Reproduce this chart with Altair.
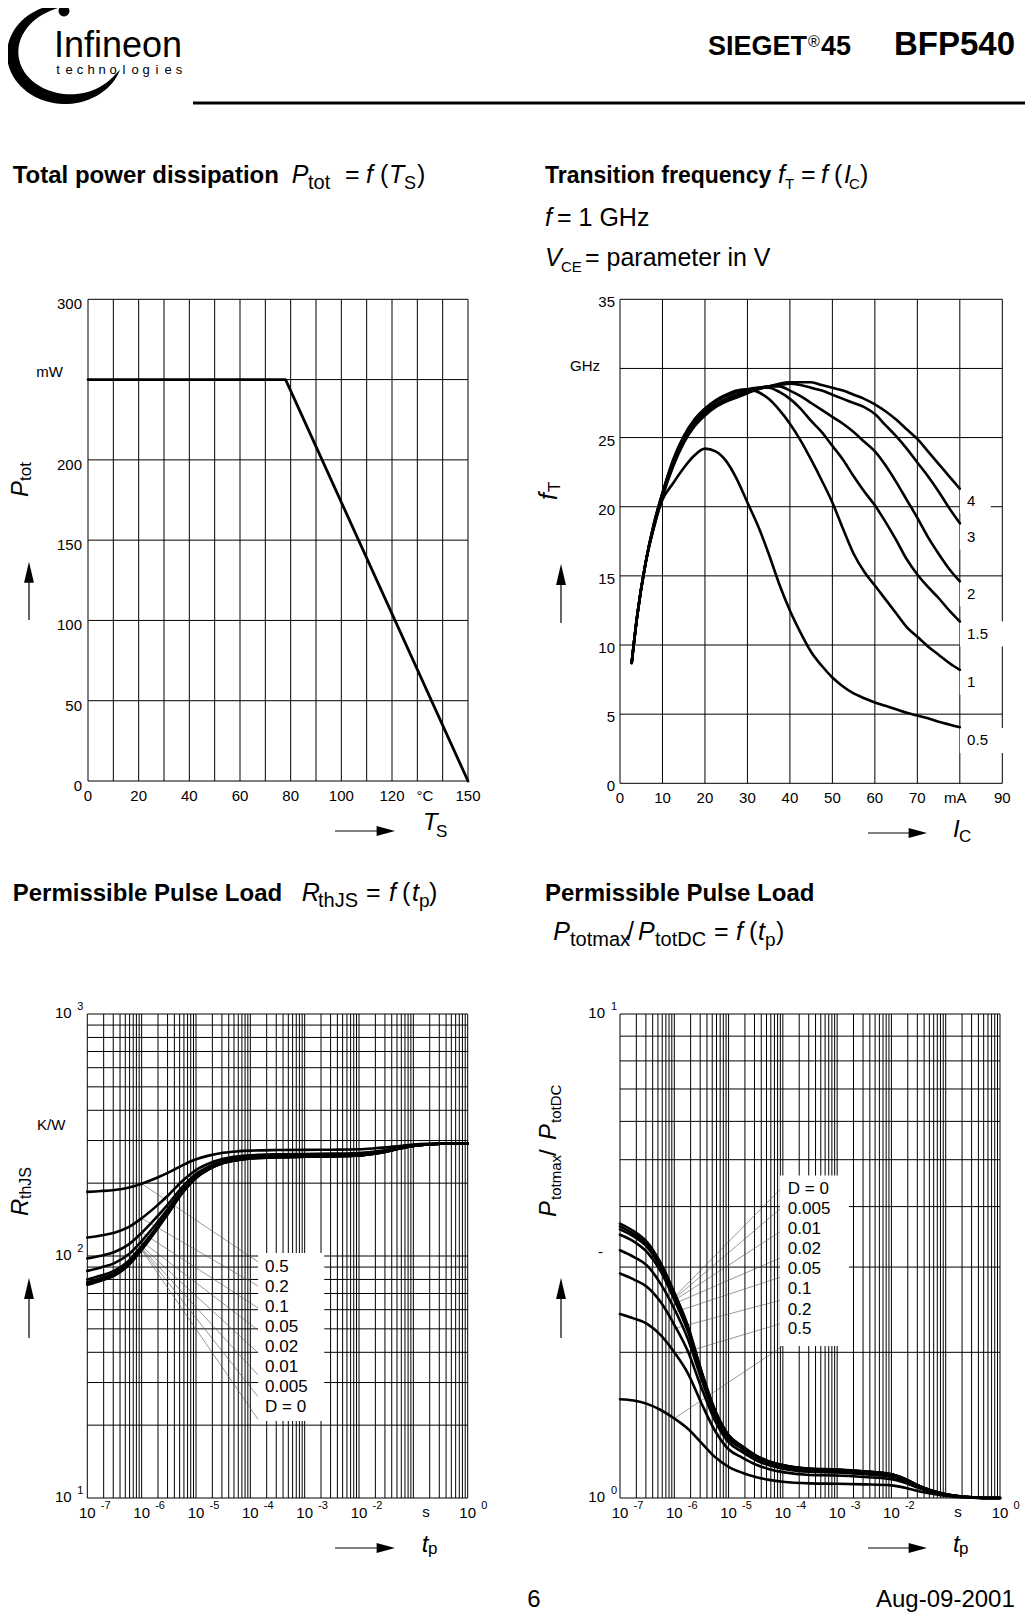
import math
import altair as alt
import pandas as pd

FONT = "Liberation Sans, Arial, Helvetica, sans-serif"
M = 8  # page margin: svg origin sits at page (8, 8)

# ======================= DATA =======================
# --- Total power dissipation Ptot = f(Ts)
TS = [0, 78, 150]
PTOT = [250, 250, 0]
P1_GX = list(range(0, 151, 10))
P1_GY = [0, 50, 100, 150, 200, 250, 300]
P1_XT = [0, 20, 40, 60, 80, 100, 120, 133, 150]
P1_XL = ["0", "20", "40", "60", "80", "100", "120", "°C", "150"]
P1_YT = [0, 50, 100, 150, 200, 300]
P1_YL = ["0", "50", "100", "150", "200", "300"]

# --- Transition frequency fT = f(IC), VCE parameter
IC = [2.75, 4, 6, 8, 10, 12.5, 15, 17.5, 20, 22.5, 25, 27.5, 30, 32.5, 35, 37.5,
      40, 42.5, 45, 47.5, 50, 52.5, 55, 57.5, 60, 62.5, 65, 67.5, 70, 72.5, 75, 77.5, 80]
FT_05 = [8.7, 12.0, 15.9, 18.6, 20.5, 21.7, 22.8, 23.7, 24.2, 24.0, 23.3, 22.0, 20.3, 18.6, 16.6, 14.4,
         12.5, 10.9, 9.5, 8.5, 7.65, 7.0, 6.5, 6.15, 5.85, 5.6, 5.35, 5.1, 4.9, 4.7, 4.45, 4.25, 4.05]
FT_1 = [8.7, 12.0, 15.9, 18.8, 21.0, 23.4, 25.1, 26.3, 27.1, 27.7, 28.1, 28.4, 28.5, 28.3, 27.8, 27.0,
        26.0, 24.8, 23.4, 21.9, 20.3, 18.4, 16.6, 15.3, 14.3, 13.3, 12.3, 11.3, 10.6, 9.9, 9.3, 8.7, 8.2]
FT_15 = [8.7, 12.0, 15.9, 18.8, 21.0, 23.3, 25.0, 26.2, 27.0, 27.6, 28.0, 28.3, 28.5, 28.6, 28.6, 28.3,
         27.8, 27.1, 26.2, 25.4, 24.4, 23.4, 22.2, 21.1, 20.1, 18.9, 17.6, 16.2, 15.1, 14.2, 13.4, 12.5, 11.7]
FT_2 = [8.7, 12.0, 15.9, 18.7, 20.9, 23.1, 24.8, 26.0, 26.8, 27.4, 27.8, 28.1, 28.4, 28.6, 28.7, 28.7,
        28.4, 28.0, 27.5, 27.0, 26.5, 26.0, 25.4, 24.7, 24.0, 23.0, 21.8, 20.5, 19.2, 17.8, 16.6, 15.5, 14.6]
FT_3 = [8.7, 12.0, 15.9, 18.6, 20.8, 23.0, 24.7, 25.9, 26.7, 27.3, 27.7, 28.0, 28.3, 28.5, 28.7, 28.8,
        28.9, 28.8, 28.6, 28.4, 28.1, 27.8, 27.5, 27.2, 26.7, 25.9, 25.1, 24.2, 23.2, 22.2, 21.1, 19.9, 18.8]
FT_4 = [8.7, 12.0, 15.9, 18.5, 20.7, 22.9, 24.6, 25.8, 26.6, 27.2, 27.6, 27.9, 28.2, 28.5, 28.7, 28.9,
        29.0, 29.0, 29.0, 28.8, 28.6, 28.4, 28.1, 27.8, 27.4, 26.9, 26.3, 25.6, 24.9, 24.0, 23.1, 22.2, 21.3]
P2_GX = list(range(0, 91, 10))
P2_GY = list(range(0, 36, 5))
P2_XT = [0, 10, 20, 30, 40, 50, 60, 70, 78.9, 90]
P2_XL = ["0", "10", "20", "30", "40", "50", "60", "70", "mA", "90"]
P2_YT = [0, 5, 10, 15, 20, 25, 35]
P2_YL = ["0", "5", "10", "15", "20", "25", "35"]
VCE_LAB = ["4", "3", "2", "1.5", "1", "0.5"]
VCE_LAB_FT = [20.4, 17.8, 13.7, 10.8, 7.3, 3.1]
VCE_BOX_END = [87.3, 87.3, 87.3, 90.5, 87.3, 90.5]

# --- Permissible pulse load RthJS = f(tp), D parameter
TP = [1e-7, 1.78e-7, 3.16e-7, 5.62e-7, 1e-6, 1.78e-6, 3.16e-6, 5.62e-6, 1e-5, 1.78e-5, 3.16e-5,
      5.62e-5, 1e-4, 3.16e-4, 1e-3, 3.16e-3, 1e-2, 1.78e-2, 3.16e-2, 5.62e-2, 0.1, 0.178, 0.316, 0.562, 1.0]
R_D0 = [76, 79, 83, 91, 106, 126, 151, 182, 210, 229, 242, 249, 253, 256, 257, 258, 260, 264, 270, 278, 285, 289, 291, 292, 292]
R_D0005 = [77, 80, 84, 92, 107, 127, 152, 183, 210, 229, 242, 249, 253, 256, 257, 258, 260, 264, 270, 278, 285, 289, 291, 292, 292]
R_D001 = [78, 81, 85, 93, 108, 128, 152, 183, 211, 230, 243, 249, 253, 256, 257, 258, 260, 264, 270, 278, 285, 289, 291, 292, 292]
R_D002 = [80, 83, 87, 95, 110, 129, 154, 184, 212, 230, 243, 250, 254, 257, 258, 259, 261, 265, 271, 278, 285, 289, 291, 292, 292]
R_D005 = [86.8, 89.7, 93.5, 101.1, 115.3, 134.3, 158.1, 187.5, 214.1, 232.2, 244.5, 251.2, 255, 257.8, 258.8,
          259.7, 261.6, 265.4, 271.1, 278.7, 285.4, 289.2, 291.1, 292, 292]
R_D01 = [97.6, 100.3, 103.9, 111.1, 124.6, 142.6, 165.1, 193.0, 218.2, 235.3, 247.0, 253.3, 256.9, 259.6, 260.5,
         261.4, 263.2, 266.8, 272.2, 279.4, 285.7, 289.3, 291.1, 292, 292]
R_D02 = [119.2, 121.6, 124.8, 131.2, 143.2, 159.2, 179.2, 204.0, 226.4, 241.6, 252.0, 257.6, 260.8, 263.2, 264.0,
         264.8, 266.4, 269.6, 274.4, 280.8, 286.4, 289.6, 291.2, 292, 292]
R_D05 = [184, 185.5, 187.5, 191.5, 199, 209, 221.5, 237, 251, 260.5, 267, 270.5, 272.5, 274, 274.5, 275, 276,
         278, 281, 285, 288.5, 290.5, 291.5, 292, 292]
P3_LAB = ["0.5", "0.2", "0.1", "0.05", "0.02", "0.01", "0.005", "D = 0"]
P3_LAB_R = [90.1, 74.5, 61.5, 51.0, 42.2, 34.9, 28.7, 23.8]
P3_LEAD_R0 = [199, 143, 125, 115, 110, 108, 107, 106]
P3_LEAD_R1 = [94.6, 75.2, 61.0, 49.4, 39.8, 32.2, 26.2, 21.1]

# --- Permissible pulse load Ptotmax/PtotDC = f(tp)
P_D0 = [3.69, 3.56, 3.38, 3.06, 2.66, 2.27, 1.83, 1.52, 1.35, 1.28, 1.225, 1.19, 1.17, 1.15, 1.145, 1.135,
        1.12, 1.095, 1.06, 1.035, 1.018, 1.008, 1.003, 1.0, 1.0]
P_D0005 = [3.64, 3.51, 3.34, 3.03, 2.64, 2.25, 1.82, 1.516, 1.347, 1.278, 1.224, 1.189, 1.169, 1.149, 1.144,
           1.134, 1.119, 1.095, 1.06, 1.035, 1.018, 1.008, 1.003, 1.0, 1.0]
P_D001 = [3.59, 3.47, 3.30, 3.00, 2.62, 2.24, 1.82, 1.51, 1.345, 1.277, 1.223, 1.188, 1.168, 1.148, 1.144,
          1.134, 1.119, 1.094, 1.06, 1.035, 1.018, 1.008, 1.003, 1.0, 1.0]
P_D002 = [3.50, 3.39, 3.22, 2.94, 2.57, 2.21, 1.80, 1.50, 1.34, 1.273, 1.22, 1.186, 1.166, 1.146, 1.142,
          1.132, 1.117, 1.093, 1.059, 1.034, 1.018, 1.008, 1.003, 1.0, 1.0]
P_D005 = [3.25, 3.15, 3.02, 2.77, 2.46, 2.13, 1.76, 1.48, 1.326, 1.263, 1.212, 1.179, 1.16, 1.141, 1.137,
          1.127, 1.113, 1.09, 1.057, 1.033, 1.017, 1.008, 1.003, 1.0, 1.0]
P_D01 = [2.91, 2.83, 2.73, 2.54, 2.28, 2.01, 1.69, 1.445, 1.304, 1.245, 1.198, 1.168, 1.15, 1.133, 1.129,
         1.12, 1.107, 1.085, 1.054, 1.032, 1.016, 1.007, 1.003, 1.0, 1.0]
P_D02 = [2.40, 2.35, 2.29, 2.17, 2.00, 1.81, 1.57, 1.377, 1.261, 1.212, 1.173, 1.147, 1.131, 1.116, 1.113,
         1.105, 1.094, 1.075, 1.048, 1.028, 1.015, 1.006, 1.002, 1.0, 1.0]
P_D05 = [1.60, 1.59, 1.565, 1.52, 1.46, 1.39, 1.30, 1.215, 1.16, 1.128, 1.105, 1.09, 1.08, 1.072, 1.07,
         1.067, 1.062, 1.05, 1.033, 1.02, 1.01, 1.004, 1.0015, 1.0, 1.0]
P4_LAB = ["D = 0", "0.005", "0.01", "0.02", "0.05", "0.1", "0.2", "0.5"]
P4_LAB_V = [4.34, 3.95, 3.59, 3.27, 2.97, 2.70, 2.45, 2.23]
P4_LEAD_V0 = [2.60, 2.58, 2.56, 2.52, 2.42, 2.24, 1.97, 1.46]
P4_LEAD_V1 = [4.40, 4.00, 3.58, 3.15, 2.87, 2.57, 2.30, 2.06]

# log grid / tick labels
DEC = [-7, -6, -5, -4, -3, -2, -1]
MULT = [1, 2, 3, 4, 5, 6, 7, 8, 9]
LOG_GX = [m * 10.0 ** e for e in DEC for m in MULT] + [1.0]
P3_GY = [m * 10.0 ** e for e in [1, 2] for m in MULT] + [1000.0]
P4_GY = [1, 2, 3, 4, 5, 6, 7, 8, 9, 10]
LOG_XT = [1e-7, 1e-6, 1e-5, 1e-4, 1e-3, 1e-2, 1.0]
LOG_XSUP = ["-7", "-6", "-5", "-4", "-3", "-2", "0"]

# ======================= helpers =======================
ONE = alt.Data(values=[{"a": 1}])


def T(x, y, s, size=25, weight="normal", style="normal", align="left", baseline="alphabetic",
      angle=0, font=FONT):
    kw = dict(text=s, fontSize=size, fontWeight=weight, fontStyle=style, align=align,
              baseline=baseline, font=font, color="black")
    if angle:
        kw["angle"] = angle
    return alt.Chart(ONE).mark_text(**kw).encode(x=alt.value(x - M), y=alt.value(y - M))


def lin(dom, rng):
    return alt.Scale(type="linear", domain=dom, range=[r - M for r in rng], nice=False, zero=False)


def logsc(dom, rng):
    return alt.Scale(type="log", domain=dom, range=[r - M for r in rng], nice=False)


def gridv(vals, lo, hi, sx, sy, w=1.0):
    df = pd.DataFrame({"v": vals, "lo": lo, "hi": hi})
    return alt.Chart(df).mark_rule(color="black", strokeWidth=w).encode(
        x=alt.X("v:Q", scale=sx, axis=None), y=alt.Y("lo:Q", scale=sy, axis=None), y2="hi:Q")


def gridh(vals, lo, hi, sx, sy, w=1.0):
    df = pd.DataFrame({"v": vals, "lo": lo, "hi": hi})
    return alt.Chart(df).mark_rule(color="black", strokeWidth=w).encode(
        y=alt.Y("v:Q", scale=sy, axis=None), x=alt.X("lo:Q", scale=sx, axis=None), x2="hi:Q")


def labx(vals, texts, at, sx, sy, dx=0, dy=15, size=15, align="center"):
    df = pd.DataFrame({"v": vals, "t": texts, "at": at})
    return alt.Chart(df).mark_text(font=FONT, fontSize=size, align=align, baseline="middle",
                                   dx=dx, dy=dy, color="black").encode(
        x=alt.X("v:Q", scale=sx, axis=None), y=alt.Y("at:Q", scale=sy, axis=None), text="t:N")


def laby(vals, texts, at, sx, sy, dx=-6, dy=5, size=15, align="right"):
    df = pd.DataFrame({"v": vals, "t": texts, "at": at})
    return alt.Chart(df).mark_text(font=FONT, fontSize=size, align=align, baseline="middle",
                                   dx=dx, dy=dy, color="black").encode(
        y=alt.Y("v:Q", scale=sy, axis=None), x=alt.X("at:Q", scale=sx, axis=None), text="t:N")


def curves(xs, series, sx, sy, w=2.6, interp="monotone"):
    rows = [{"x": x, "y": y, "s": k} for k, ys in series.items() for x, y in zip(xs, ys)]
    return alt.Chart(pd.DataFrame(rows)).mark_line(
        color="black", strokeWidth=w, interpolate=interp, strokeCap="round", strokeJoin="round"
    ).encode(x=alt.X("x:Q", scale=sx, axis=None), y=alt.Y("y:Q", scale=sy, axis=None), detail="s:N")


def boxes(x1, x2, y1, y2, sx, sy):
    df = pd.DataFrame({"x1": x1, "x2": x2, "y1": y1, "y2": y2})
    return alt.Chart(df).mark_rect(color="white").encode(
        x=alt.X("x1:Q", scale=sx, axis=None), x2="x2:Q", y=alt.Y("y1:Q", scale=sy, axis=None), y2="y2:Q")


def leaders(xa, ya, xb, yb, sx, sy):
    df = pd.DataFrame({"xa": xa, "ya": ya, "xb": xb, "yb": yb})
    return alt.Chart(df).mark_rule(color="#555555", strokeWidth=0.6).encode(
        x=alt.X("xa:Q", scale=sx, axis=None), y=alt.Y("ya:Q", scale=sy, axis=None), x2="xb:Q", y2="yb:Q")


def tlabels(labels, at_x, ys, sx, sy, dx, size=17):
    df = pd.DataFrame({"t": labels, "x": at_x, "y": ys})
    return alt.Chart(df).mark_text(font=FONT, fontSize=size, align="left", baseline="middle",
                                   dx=dx, color="black").encode(
        x=alt.X("x:Q", scale=sx, axis=None), y=alt.Y("y:Q", scale=sy, axis=None), text="t:N")


def hrule(x0, x1, y, w=1.2):
    return alt.Chart(ONE).mark_rule(color="black", strokeWidth=w).encode(
        x=alt.value(x0 - M), x2=alt.value(x1 - M), y=alt.value(y - M))


def vrule(x, y0, y1, w=1.2):
    return alt.Chart(ONE).mark_rule(color="black", strokeWidth=w).encode(
        x=alt.value(x - M), y=alt.value(y0 - M), y2=alt.value(y1 - M))


HEAD_R = "M -1 -0.55 L 1 0 L -1 0.55 Z"
HEAD_U = "M -0.47 1 L 0 -1 L 0.47 1 Z"


def head(x, y, shape, half):
    return alt.Chart(ONE).mark_point(shape=shape, filled=True, color="black", opacity=1,
                                     size=(2 * half) ** 2, strokeWidth=0).encode(
        x=alt.value(x - M), y=alt.value(y - M))


def arrow_right(x0, x1, y):
    return [hrule(x0, x1 - 17, y), head(x1 - 9.2, y, HEAD_R, 9.2)]


def arrow_up(x, y0, y1):
    return [vrule(x, y0, y1 + 20), head(x, y1 + 10.5, HEAD_U, 10.5)]


layers = []

# ======================= header =======================
def swoosh_path(rx, ry, a0, a1, tmax, k):
    outer, inner = [], []
    n = 60
    for i in range(n + 1):
        s = i / n
        a = math.radians(a0 + (a1 - a0) * s)
        t = tmax * math.sin(math.pi * s) ** 0.7
        outer.append((rx * math.cos(a), ry * math.sin(a)))
        inner.append(((rx - t) * math.cos(a), (ry - t) * math.sin(a)))
    pts = outer + inner[::-1]
    return "M " + " L ".join(f"{px / k:.4f} {py / k:.4f}" for px, py in pts) + " Z"


LOGO_CX, LOGO_CY = 65, 54
layers.append(alt.Chart(ONE).mark_point(
    shape=swoosh_path(58, 50, -82, -342, 12, 60), filled=True, color="black",
    opacity=1, size=120 ** 2, strokeWidth=0).encode(x=alt.value(LOGO_CX - M), y=alt.value(LOGO_CY - M)))
layers.append(alt.Chart(ONE).mark_point(shape="circle", filled=True, color="black", opacity=1,
                                        size=120, strokeWidth=0).encode(x=alt.value(64 - M), y=alt.value(11 - M)))
layers.append(T(54, 57, "Infineon", size=36))
for i, ch in enumerate("technologies"):
    layers.append(T(58 + i * 11, 74, ch, size=13, align="center"))
layers.append(T(708, 55, "SIEGET", size=27, weight="bold"))
layers.append(T(808, 47, "®", size=16))
layers.append(T(821, 55, "45", size=27, weight="bold"))
layers.append(T(1015, 55, "BFP540", size=33, weight="bold", align="right"))
layers.append(hrule(193, 1030, 103, w=3))

# ======================= titles =======================
def pieces(lst):
    out = []
    for p in lst:
        x, y, s, size = p[:4]
        weight = p[4] if len(p) > 4 else "normal"
        style = p[5] if len(p) > 5 else "normal"
        out.append(T(x, y, s, size=size, weight=weight, style=style))
    return out


IT = ("normal", "italic")
layers += pieces([
    (12.7, 183, "Total power dissipation", 24, "bold"),
    (291.7, 183, "P", 25, *IT), (308, 189, "tot", 20),
    (345, 183, "=", 25), (366, 183, "f", 25, *IT), (380, 183, "(", 25),
    (389, 183, "T", 25, *IT), (404, 189, "S", 18), (417, 183, ")", 25),
    (545, 183, "Transition frequency", 23, "bold"),
    (778, 183, "f", 25, *IT), (785, 189, "T", 15), (801, 183, "=", 25),
    (821, 183, "f", 25, *IT), (834, 183, "(", 25), (844, 183, "I", 25, *IT),
    (849, 189, "C", 15), (860, 183, ")", 25),
    (545, 226, "f", 25, *IT), (557, 226, "= 1 GHz", 25),
    (545, 266, "V", 25, *IT), (561, 272, "CE", 15), (585, 266, "= parameter in V", 25),
    (12.7, 900.7, "Permissible Pulse Load", 24, "bold"),
    (301.7, 900.7, "R", 25, *IT), (318, 907, "thJS", 20), (366, 900.7, "=", 25),
    (389, 900.7, "f", 25, *IT), (402, 900.7, "(", 25), (412, 900.7, "t", 25, *IT),
    (419, 907, "p", 19), (429, 900.7, ")", 25),
    (545, 900.7, "Permissible Pulse Load", 24, "bold"),
    (553.3, 940, "P", 25, *IT), (570, 946, "totmax", 20), (627, 940, "/", 25),
    (638, 940, "P", 25, *IT), (655, 946, "totDC", 20), (714, 940, "=", 25),
    (736, 940, "f", 25, *IT), (749, 940, "(", 25), (758, 940, "t", 25, *IT),
    (765, 946, "p", 19), (776, 940, ")", 25),
])

# footer
layers.append(T(534, 1607, "6", size=24, align="center"))
layers.append(T(876, 1607, "Aug-09-2001", size=24))

# ======================= panel 1 =======================
SX1 = lin([0, 150], [88, 468])
SY1 = lin([0, 300], [781, 299.3])
p1 = [
    gridv(P1_GX, 0, 300, SX1, SY1),
    gridh(P1_GY, 0, 150, SX1, SY1),
    curves(TS, {"p": PTOT}, SX1, SY1, w=2.8, interp="linear"),
    labx(P1_XT, P1_XL, 0, SX1, SY1, dy=15),
    laby(P1_YT, P1_YL, 0, SX1, SY1, dx=-6, dy=5),
    laby([250], ["mW"], 0, SX1, SY1, dx=-25, dy=-8),
]
layers.append(alt.layer(*p1))
layers += [T(28, 497, "P", 24, style="italic", angle=270), T(31, 481, "tot", 17, angle=270)]
layers += arrow_up(29, 620, 561.7)
layers += [T(423, 830, "T", 24, style="italic"), T(436, 837, "S", 17)]
layers += arrow_right(335, 395, 831)

# ======================= panel 2 =======================
SX2 = lin([0, 90], [620, 1002.3])
SY2 = lin([0, 35], [783.3, 299.3])
p2 = [
    gridv(P2_GX, 0, 35, SX2, SY2),
    gridh(P2_GY, 0, 90, SX2, SY2),
    boxes([80] * 6, VCE_BOX_END, [v - 0.9 for v in VCE_LAB_FT], [v + 0.9 for v in VCE_LAB_FT], SX2, SY2),
    curves(IC, {"0.5": FT_05, "1": FT_1, "1.5": FT_15, "2": FT_2, "3": FT_3, "4": FT_4}, SX2, SY2),
    tlabels(VCE_LAB, [80] * 6, VCE_LAB_FT, SX2, SY2, dx=7.3, size=15),
    labx(P2_XT, P2_XL, 0, SX2, SY2, dy=15),
    laby(P2_YT, P2_YL, 0, SX2, SY2, dx=-5, dy=3),
    laby([30], ["GHz"], 0, SX2, SY2, dx=-20, dy=-2),
]
layers.append(alt.layer(*p2))
layers += [T(557, 500, "f", 25, style="italic", angle=270), T(560, 492, "T", 17, angle=270)]
layers += arrow_up(561, 623, 564)
layers += [T(953, 837, "I", 24, style="italic"), T(959, 842, "C", 17)]
layers += arrow_right(868, 927, 833)

# ======================= panel 3 =======================
SX3 = logsc([1e-7, 1], [87.3, 467.7])
SY3 = logsc([10, 1000], [1498, 1014])
p3 = [
    gridv(LOG_GX, 10, 1000, SX3, SY3),
    gridh(P3_GY, 1e-7, 1, SX3, SY3),
    leaders([1e-6] * 8, P3_LEAD_R0, [1.39e-4] * 8, P3_LEAD_R1, SX3, SY3),
    boxes([1.39e-4], [2.29e-3], [20.8], [102.8], SX3, SY3),
    curves(TP, {"0": R_D0, "0.005": R_D0005, "0.01": R_D001, "0.02": R_D002, "0.05": R_D005,
                "0.1": R_D01, "0.2": R_D02, "0.5": R_D05}, SX3, SY3),
    tlabels(P3_LAB, [1.39e-4] * 8, P3_LAB_R, SX3, SY3, dx=7, size=17),
    labx(LOG_XT, ["10"] * 7, 10, SX3, SY3, dy=15),
    labx(LOG_XT, LOG_XSUP, 10, SX3, SY3, dx=13.5, dy=7.5, size=11, align="left"),
    labx([0.17], ["s"], 10, SX3, SY3, dy=14),
    laby([10, 100, 1000], ["10"] * 3, 1e-7, SX3, SY3, dx=-15.6, dy=-1),
    laby([10, 100, 1000], ["1", "2", "3"], 1e-7, SX3, SY3, dx=-10, dy=-7, size=11, align="left"),
    laby([347], ["K/W"], 1e-7, SX3, SY3, dx=-22, dy=0),
]
layers.append(alt.layer(*p3))
layers += [T(28, 1216, "R", 24, style="italic", angle=270), T(31, 1199, "thJS", 16, angle=270)]
layers += arrow_up(29, 1338, 1278)
layers += [T(421.7, 1552, "t", 24, style="italic"), T(428, 1554, "p", 17)]
layers += arrow_right(335, 395, 1548)

# ======================= panel 4 =======================
SX4 = logsc([1e-7, 1], [620, 1000])
SY4 = logsc([1, 10], [1498, 1014])
p4 = [
    gridv(LOG_GX, 1, 10, SX4, SY4),
    gridh(P4_GY, 1e-7, 1, SX4, SY4),
    leaders([1e-6] * 8, P4_LEAD_V0, [1e-4] * 8, P4_LEAD_V1, SX4, SY4),
    boxes([8.85e-5], [1.65e-3], [2.06], [4.64], SX4, SY4),
    curves(TP, {"0": P_D0, "0.005": P_D0005, "0.01": P_D001, "0.02": P_D002, "0.05": P_D005,
                "0.1": P_D01, "0.2": P_D02, "0.5": P_D05}, SX4, SY4),
    tlabels(P4_LAB, [1e-4] * 8, P4_LAB_V, SX4, SY4, dx=5, size=17),
    labx(LOG_XT, ["10"] * 7, 1, SX4, SY4, dy=15),
    labx(LOG_XT, LOG_XSUP, 1, SX4, SY4, dx=13.5, dy=7.5, size=11, align="left"),
    labx([0.168], ["s"], 1, SX4, SY4, dy=14),
    laby([1, 10], ["10", "10"], 1e-7, SX4, SY4, dx=-15, dy=-1),
    laby([1, 10], ["0", "1"], 1e-7, SX4, SY4, dx=-9, dy=-7, size=11, align="left"),
    laby([3.23], ["-"], 1e-7, SX4, SY4, dx=-17, dy=0),
]
layers.append(alt.layer(*p4))
layers += [T(556, 1217, "P", 24, style="italic", angle=270), T(561, 1200, "totmax", 15, angle=270),
           T(556, 1156, "/", 24, angle=270), T(556, 1140, "P", 24, style="italic", angle=270),
           T(561, 1123, "totDC", 15, angle=270)]
layers += arrow_up(561, 1338, 1278)
layers += [T(953, 1552, "t", 24, style="italic"), T(959, 1554, "p", 17)]
layers += arrow_right(868, 927, 1548)

chart = alt.layer(*layers).resolve_scale(x="independent", y="independent").properties(
    width=1017, height=1606, padding=0, autosize=alt.AutoSizeParams(type="none"), background="white"
).configure_view(stroke=None)

chart.save("out.html", embed_options={"renderer": "svg", "actions": False})
